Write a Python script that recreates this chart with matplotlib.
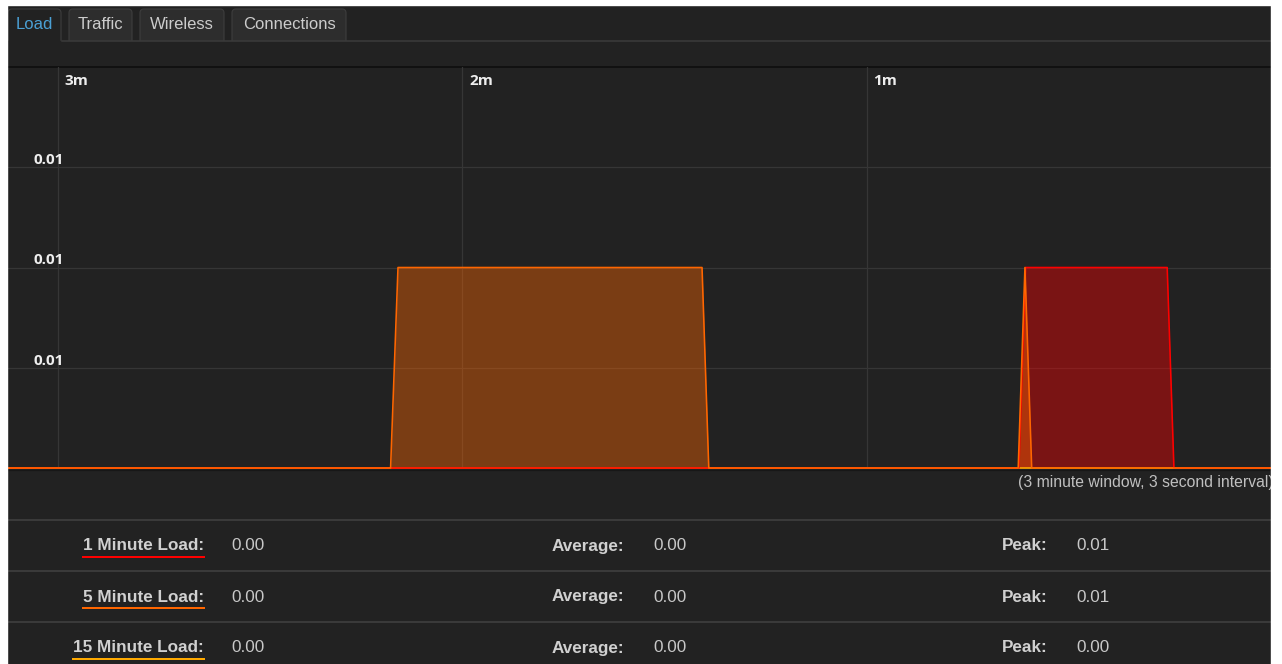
import matplotlib
matplotlib.use("Agg")
import matplotlib.pyplot as plt
from matplotlib.patches import Rectangle, FancyBboxPatch

W, H = 1282, 664
DPI = 100

# load history: x is seconds before now
load1_t = [-187.5, -37.4, -36.4, -15.4, -14.4, 0]
load1_v = [0, 0, 0.01, 0.01, 0, 0]
load5_t = [-187.5, -130.6, -129.5, -84.4, -83.4, -37.5, -36.5, -35.5, 0]
load5_v = [0, 0, 0.01, 0.01, 0, 0, 0.01, 0, 0]
load15_t = [-187.5, 0]
load15_v = [0, 0]

x_ticks = [-180, -120, -60]
x_labels = ["3m", "2m", "1m"]
y_ticks = [0.005, 0.01, 0.015]
y_labels = ["0.01", "0.01", "0.01"]

tabs = ["Load", "Traffic", "Wireless", "Connections"]
row_labels = ["1 Minute Load:", "5 Minute Load:", "15 Minute Load:"]
row_current = [0.00, 0.00, 0.00]
row_average = [0.00, 0.00, 0.00]
row_peak = [0.01, 0.01, 0.00]

C_1M, C_5M, C_15M = "#ff0000", "#ff6600", "#ffaa00"
row_colors = [C_1M, C_5M, C_15M]
BG = "#222222"
PX = 0.72  # one pixel in points at 100 dpi

fig = plt.figure(figsize=(W / DPI, H / DPI), dpi=DPI, facecolor="white")

# page background / tabs / table, drawn in pixel coordinates (y down)
bg = fig.add_axes([0, 0, 1, 1], zorder=0)
bg.set_xlim(0, W)
bg.set_ylim(H, 0)
bg.axis("off")
bg.add_patch(Rectangle((7, 5), 1264, H, color=BG, zorder=0))

# tabs
tab_x = [(7, 62), (68, 133), (139, 225), (231, 347)]
for i, (name, (x0, x1)) in enumerate(zip(tabs, tab_x)):
    active = i == 0
    bg.add_patch(FancyBboxPatch((x0 + 1, 9), x1 - x0 - 2, 38,
                                boxstyle="round,pad=0,rounding_size=4",
                                fc=BG if active else "#2d2d2d",
                                ec="#3c3c3c", lw=1.2 * PX, zorder=1))
    bg.text((x0 + x1) / 2, 24.5, name, ha="center", va="center",
            family="Liberation Sans", fontsize=12,
            color="#4aa0d5" if active else "#cccccc", zorder=3)
bg.add_patch(Rectangle((7, 41), 1264, 25, color=BG, zorder=2))
bg.plot([62, 1271], [40.5, 40.5], color="#3c3c3c", lw=1.5 * PX, zorder=3)
bg.plot([7, 1271], [66.5, 66.5], color="#111111", lw=2 * PX, zorder=3)
bg.plot([7, 1271], [470, 470], color="#171717", lw=1.2 * PX, zorder=3)

# caption under the graph (runs past the right edge, clipped by the page margin)
bg.text(1018, 482, "(3 minute window, 3 second interval)", ha="left", va="center",
        family="Liberation Sans", fontsize=11.3, color="#c0c0c0", zorder=3)

# stats table
sep_y = [519.5, 571, 622]
for y in sep_y:
    bg.plot([7, 1271], [y, y], color="#3a3a3a", lw=2 * PX, zorder=3)

row_y = [546, 597, 648]
label_texts = []
for lbl, cur, avg, pk, y in zip(row_labels, row_current, row_average, row_peak, row_y):
    t = bg.text(204, y, lbl, ha="right", va="center", family="Liberation Sans",
                fontsize=12.3, fontweight="bold", color="#d0d0d0", zorder=3)
    label_texts.append(t)
    bg.text(231, y, f"{cur:.2f}", ha="left", va="center", family="Liberation Sans",
            fontsize=12.3, color="#c8c8c8", zorder=3)
    bg.text(552, y, "Average:", ha="left", va="center", family="Liberation Sans",
            fontsize=12.3, fontweight="bold", color="#d0d0d0", zorder=3)
    bg.text(653, y, f"{avg:.2f}", ha="left", va="center", family="Liberation Sans",
            fontsize=12.3, color="#c8c8c8", zorder=3)
    bg.text(1002, y, "Peak:", ha="left", va="center", family="Liberation Sans",
            fontsize=12.3, fontweight="bold", color="#d0d0d0", zorder=3)
    bg.text(1076, y, f"{pk:.2f}", ha="left", va="center", family="Liberation Sans",
            fontsize=12.3, color="#c8c8c8", zorder=3)

# the load graph itself
gx0, gx1, gy0, gy1 = 7, 1271, 67, 468
ax = fig.add_axes([gx0 / W, (H - gy1) / H, (gx1 - gx0) / W, (gy1 - gy0) / H], zorder=1)
ax.set_facecolor("none")
ax.set_xlim(-187.5, 0)
ax.set_ylim(0, 0.02)
for s in ax.spines.values():
    s.set_visible(False)
ax.set_xticks(x_ticks)
ax.set_yticks(y_ticks)
ax.tick_params(length=0, labelbottom=False, labelleft=False)
ax.grid(True, color="#363636", lw=1.2 * PX)
ax.set_axisbelow(True)

for t, v, c in [(load15_t, load15_v, C_15M), (load1_t, load1_v, C_1M), (load5_t, load5_v, C_5M)]:
    ax.fill_between(t, v, color=c, alpha=0.4, lw=0)
    ax.plot(t, v, color=c, lw=1.6 * PX, clip_on=False)

for xv, lbl in zip(x_ticks, x_labels):
    ax.annotate(lbl, xy=(xv, 1), xycoords=("data", "axes fraction"),
                xytext=(7, -14), textcoords="offset pixels", ha="left", va="center",
                family="Open Sans", fontsize=11, fontweight="bold", color="#eeeeee")
for yv, lbl in zip(y_ticks, y_labels):
    ax.annotate(lbl, xy=(0, yv), xycoords=("axes fraction", "data"),
                xytext=(27, 3), textcoords="offset pixels", ha="left", va="baseline",
                family="Open Sans", fontsize=11, fontweight="bold", color="#eeeeee")

# white page margins above every layer
for rect in [(1271 / W, 0, 1 - 1271 / W, 1), (0, 0, 7 / W, 1), (0, 1 - 5 / H, 1, 5 / H)]:
    fig.add_artist(Rectangle(rect[:2], rect[2], rect[3], transform=fig.transFigure,
                             color="white", zorder=100))

# coloured underlines below the table labels, as wide as the label text
fig.canvas.draw()
renderer = fig.canvas.get_renderer()
inv = bg.transData.inverted()
for t, c, y in zip(label_texts, row_colors, row_y):
    bb = t.get_window_extent(renderer)
    (xa, _), (xb, _) = inv.transform([(bb.x0, bb.y0), (bb.x1, bb.y1)])
    bg.plot([xa, xb], [y + 11, y + 11], color=c, lw=2 * PX, zorder=4)

fig.savefig("out.png", dpi=DPI, facecolor="white")
